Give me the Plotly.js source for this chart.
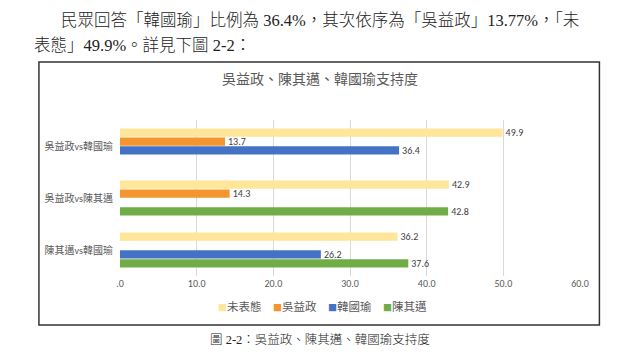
<!DOCTYPE html>
<html>
<head>
<meta charset="utf-8">
<script src="https://cdn.plot.ly/plotly-3.0.1.min.js"></script>
<style>html,body{margin:0;padding:0;background:#fff;}#chart{width:640px;height:357px;}</style>
</head>
<body>
<div id="chart"></div>
<script>
const categories = ["吳益政vs韓國瑜", "吳益政vs陳其邁", "陳其邁vs韓國瑜"];
const seriesNames = ["未表態", "吳益政", "韓國瑜", "陳其邁"];
const undecided = [49.9, 42.9, 36.2];
const wu = [13.7, 14.3, null];
const han = [36.4, null, 26.2];
const chen = [null, 42.8, 37.6];
const tickVals = [0, 10, 20, 30, 40, 50, 60];
const tickText = [".0", "10.0", "20.0", "30.0", "40.0", "50.0", "60.0"];
const colors = ["#FFE699", "#F5952F", "#4472C4", "#70AD47"];
const seriesValues = [undecided, wu, han, chen];

const cjk = "Calibri, 'Noto Sans CJK TC', 'Noto Sans', sans-serif";
const serif = "'Liberation Serif', 'Noto Sans CJK TC', serif";

const traces = seriesNames.map((name, i) => ({
  type: "bar",
  orientation: "h",
  name: name,
  y: categories,
  x: seriesValues[i],
  marker: {color: colors[i]},
  text: seriesValues[i].map(v => v === null ? "" : v.toFixed(1)),
  textposition: "outside",
  constraintext: "none",
  textfont: {size: 10, color: "#404040", family: cjk},
  cliponaxis: false,
  showlegend: false,
  hoverinfo: "x+name"
}));

// pixel -> paper helpers (plot area 120..579.6 x, 120..276 y)
const px = v => (v - 120) / 459.6;
const py = v => (276 - v) / 156;

// compact Excel-style legend built from series names and colours
const legendText = seriesNames.map((n, i) =>
  '<span style="color:' + colors[i] + ';font-size:9px">■</span>' + n).join("　");

const layout = {
  width: 640, height: 357,
  margin: {l: 120, r: 60.4, t: 120, b: 81},
  paper_bgcolor: "#ffffff",
  plot_bgcolor: "#ffffff",
  barmode: "group",
  bargap: 0.31,
  bargroupgap: 0.08,
  showlegend: false,
  xaxis: {
    range: [0, 60], tickvals: tickVals, ticktext: tickText,
    showgrid: true, gridcolor: "#d9d9d9", gridwidth: 1, zeroline: false,
    showline: false, ticks: "",
    tickfont: {size: 10, color: "#595959", family: cjk}, fixedrange: true
  },
  yaxis: {
    autorange: "reversed", showgrid: false, zeroline: false, showline: false,
    ticks: "", ticklabelstandoff: 6,
    tickfont: {size: 10, color: "#595959", family: cjk}
  },
  shapes: [
    {type: "rect", xref: "paper", yref: "paper", x0: px(39), x1: px(599), y0: py(325), y1: py(62),
     line: {color: "#333333", width: 1.5}, fillcolor: "rgba(0,0,0,0)"}
  ],
  annotations: [
    {text: legendText, xref: "paper", yref: "paper", x: px(322), y: py(307),
     xanchor: "center", yanchor: "middle", showarrow: false,
     font: {size: 11.5, color: "#595959", family: cjk}},
    {text: "吳益政、陳其邁、韓國瑜支持度", xref: "paper", yref: "paper", x: px(320), y: py(79),
     xanchor: "center", yanchor: "middle", showarrow: false,
     font: {size: 14, color: "#595959", family: cjk}},
    {text: "民眾回答「韓國瑜」比例為 36.4%，其次依序為「吳益政」13.77%，「未", xref: "paper", yref: "paper",
     x: px(59), y: py(20), xanchor: "left", yanchor: "middle", showarrow: false,
     font: {size: 16.5, color: "#222222", family: serif, weight: 300}},
    {text: "表態」49.9%。詳見下圖 2-2：", xref: "paper", yref: "paper",
     x: px(32), y: py(46), xanchor: "left", yanchor: "middle", showarrow: false,
     font: {size: 16.5, color: "#222222", family: serif, weight: 300}},
    {text: "圖 2-2：吳益政、陳其邁、韓國瑜支持度", xref: "paper", yref: "paper",
     x: px(320), y: py(340), xanchor: "center", yanchor: "middle", showarrow: false,
     font: {size: 12.5, color: "#222222", family: serif, weight: 300}}
  ]
};

Plotly.newPlot("chart", traces, layout, {displayModeBar: false, staticPlot: true});
</script>
</body>
</html>
